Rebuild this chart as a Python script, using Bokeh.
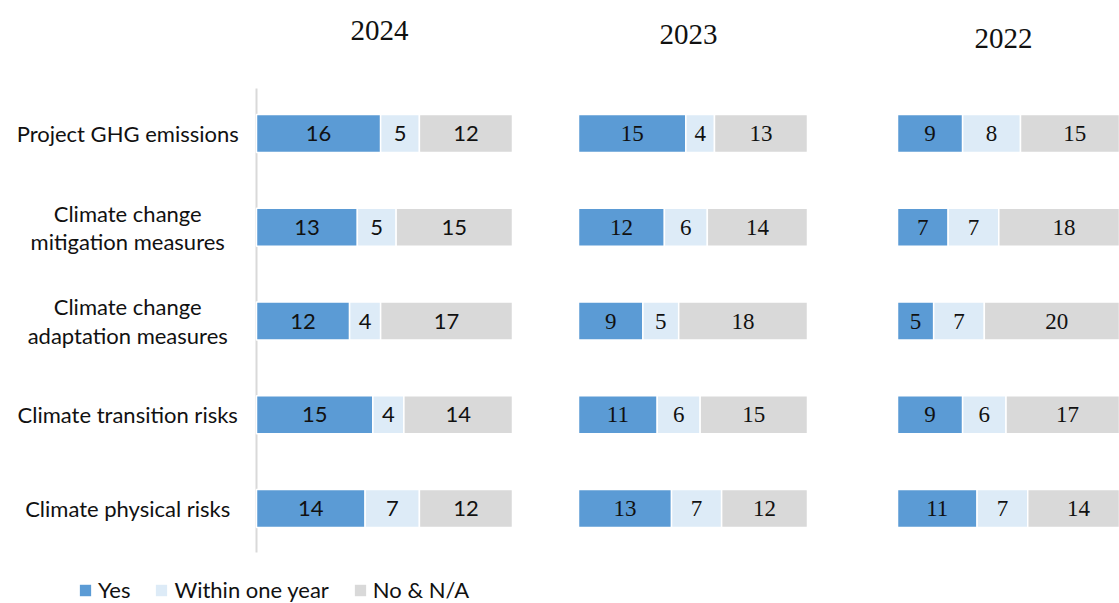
from bokeh.plotting import figure
from bokeh.models import ColumnDataSource, Range1d, Legend, LegendItem
from bokeh.layouts import row
from bokeh.core.properties import value
from bokeh.embed import file_html
from bokeh.resources import INLINE

# ---------------- data ----------------
categories = ["Project GHG emissions",
              "Climate change\nmitigation measures",
              "Climate change\nadaptation measures",
              "Climate transition risks",
              "Climate physical risks"]
years = ["2024", "2023", "2022"]
series_names = ["Yes", "Within one year", "No & N/A"]

yes_2024 = [16, 13, 12, 15, 14]
within_2024 = [5, 5, 4, 4, 7]
no_2024 = [12, 15, 17, 14, 12]

yes_2023 = [15, 12, 9, 11, 13]
within_2023 = [4, 6, 5, 6, 7]
no_2023 = [13, 14, 18, 15, 12]

yes_2022 = [9, 7, 5, 9, 11]
within_2022 = [8, 7, 7, 6, 7]
no_2022 = [15, 18, 20, 17, 14]

# ---------------- style ----------------
colors = ["#5b9bd5", "#ddebf7", "#d9d9d9"]
H = 603
ROW_PX = 93.75
ROW0_PX = 133.0            # first row centre below figure top
y_top = -ROW0_PX / ROW_PX
y_bot = (H - ROW0_PX) / ROW_PX
BAR_H = 38 / ROW_PX

rows_idx = list(range(len(categories)))


def make_panel(year, yes, within, no, width, bar_left_px, scale,
               num_font, num_size, title_x, title_y, first=False):
    p = figure(width=width, height=H, output_backend="svg",
               toolbar_location=None,
               x_range=Range1d(-bar_left_px / scale, (width - bar_left_px) / scale),
               y_range=Range1d(y_bot, y_top),
               x_axis_type=None, y_axis_type=None,
               min_border=0, min_border_left=0, min_border_right=0,
               min_border_top=0, min_border_bottom=0,
               outline_line_color=None, background_fill_color="white",
               border_fill_color="white")
    p.xgrid.visible = False
    p.ygrid.visible = False

    if first:
        # axis line
        p.segment(x0=[0], x1=[0], y0=[-0.48], y1=[len(categories) - 0.53],
                  line_color="#d9d9d9", line_width=2)
        # category labels
        p.text(x=[-16.6] * len(categories), y=rows_idx, text=categories,
               text_font=value("Lato"), text_font_size="22px",
               text_align="center", text_baseline="middle",
               text_line_height=1.05, text_color="#111111")

    renderers = []
    left = [0] * len(yes)
    for vals, col in zip([yes, within, no], colors):
        right = [l + v for l, v in zip(left, vals)]
        src = ColumnDataSource(dict(y=rows_idx, left=left, right=right,
                                    mid=[(l + r) / 2 for l, r in zip(left, right)],
                                    lab=[str(v) for v in vals]))
        r = p.hbar(y="y", left="left", right="right", height=BAR_H, source=src,
                   fill_color=col, line_color="white", line_width=1.5)
        renderers.append(r)
        p.text(x="mid", y="y", text="lab", source=src,
               text_font=value(num_font), text_font_size=num_size,
               text_align="center", text_baseline="middle", text_color="#111111")
        left = right

    p.text(x=[title_x], y=[title_y], text=[year],
           text_font=value("Liberation Serif"), text_font_size="29px",
           text_align="center", text_baseline="middle", text_color="#111111")
    return p, renderers


pA, rA = make_panel(years[0], yes_2024, within_2024, no_2024,
                    width=560, bar_left_px=256, scale=256 / 33,
                    num_font="Lato", num_size="22px",
                    title_x=15.85, title_y=(30 - ROW0_PX) / ROW_PX, first=True)
pB, _ = make_panel(years[1], yes_2023, within_2023, no_2023,
                   width=320, bar_left_px=18, scale=229 / 32,
                   num_font="Liberation Serif", num_size="23px",
                   title_x=15.37, title_y=(34 - ROW0_PX) / ROW_PX)
pC, _ = make_panel(years[2], yes_2022, within_2022, no_2022,
                   width=239, bar_left_px=17, scale=7.235,
                   num_font="Liberation Serif", num_size="23px",
                   title_x=14.65, title_y=(38 - ROW0_PX) / ROW_PX)

legend = Legend(items=[LegendItem(label=n, renderers=[r]) for n, r in zip(series_names, rA)],
                orientation="horizontal", location=(77, 0),
                glyph_width=16, glyph_height=16, label_standoff=5, spacing=23,
                label_text_font="Lato", label_text_font_size="22px",
                label_text_color="#111111", label_height=22,
                padding=0, margin=0, border_line_color=None,
                background_fill_alpha=0)
pA.add_layout(legend)

layout = row(pA, pB, pC)
open("out.html", "w").write(file_html(layout, INLINE))
